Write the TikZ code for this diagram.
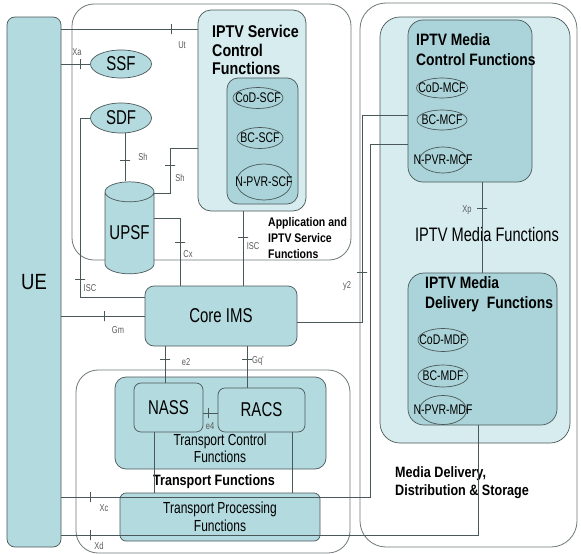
\documentclass[tikz,border=0pt]{standalone}
\usepackage{fontspec}
\setmainfont{Liberation Sans}[FakeStretch=0.75]
\newfontfamily\hdfont{Liberation Sans}[FakeStretch=0.84]
\usepackage{xcolor}
\usepackage{tikz}
\usetikzlibrary{shapes.geometric}

\definecolor{tealA}{HTML}{B3DADE}
\definecolor{tealB}{HTML}{D6ECEF}
\definecolor{tealC}{HTML}{AAD4D9}
\definecolor{edgec}{HTML}{4B5859}
\definecolor{ifc}{HTML}{5A5A5A}

\tikzset{
  area/.style={draw=edgec!80, line width=0.8pt, rounded corners=22pt, inner sep=0pt},
  box/.style={draw=edgec, line width=0.7pt, fill=tealA, rounded corners=7pt, inner sep=0pt},
  fn/.style={ellipse, draw=edgec, line width=0.7pt, inner sep=0pt},
  fnl/.style={font=\fontsize{14}{16}\selectfont, inner sep=0pt},
  big/.style={font=\fontsize{20}{24}\selectfont},
  ttl/.style={font=\hdfont\bfseries\fontsize{17}{18.5}\selectfont, align=left, inner sep=0pt},
  link/.style={draw=edgec, line width=0.7pt},
  tickh/.style={draw=edgec, line width=0.7pt, minimum width=0pt, minimum height=10pt, inner sep=0pt, outer sep=0pt},
  tickv/.style={draw=edgec, line width=0.7pt, minimum width=10pt, minimum height=0pt, inner sep=0pt, outer sep=0pt},
  ifl/.style={text=ifc, font=\fontsize{10}{12}\selectfont, inner sep=0pt},
}

\begin{document}
\begin{tikzpicture}[x=1pt, y=-1pt]
  \useasboundingbox[fill=white] (0,0) rectangle (581,554);
  % Define areas
  \node[area, minimum width=279pt, minimum height=256pt] (appfn) at (211.5,132) {};
  \node[area, minimum width=274pt, minimum height=183pt] (trfn) at (213,461.5) {};
  \node[area, minimum width=217pt, minimum height=544pt, rounded corners=26pt] (media) at (468.5,275) {};
  \node[box, fill=tealB, rounded corners=20pt, minimum width=190pt, minimum height=426pt] (mediafn) at (475,230) {};
  % Define nodes
  \node[box, big, rounded corners=8pt, minimum width=54pt, minimum height=530pt] (ue) at (34,282) {\hdfont\fontsize{22}{24}\selectfont UE};
  \node[box, fill=tealB, rounded corners=13pt, minimum width=108pt, minimum height=201pt] (scf) at (252,110.5) {};
  \node[box, fill=tealC, rounded corners=11pt, minimum width=71pt, minimum height=126pt] (scfin) at (262.5,141) {};
  \node[fn, minimum width=50pt, minimum height=21pt, label={[fnl]center:CoD-SCF}] (codscf) at (258,98) {};
  \node[fn, minimum width=46pt, minimum height=21pt, label={[fnl]center:BC-SCF}] (bcscf) at (260,138) {};
  \node[fn, minimum width=55pt, minimum height=36pt, label={[fnl]center:N-PVR-SCF}] (npvrscf) at (264,182) {};
  \node[fn, big, fill=tealA, minimum width=61pt, minimum height=28pt] (ssf) at (121,64) {SSF};
  \node[fn, big, fill=tealA, minimum width=61pt, minimum height=30pt] (sdf) at (121,118) {SDF};
  \node[cylinder, shape border rotate=90, aspect=0.5, draw=edgec, line width=0.7pt, fill=tealA,
        big, inner sep=0pt, minimum width=49pt, minimum height=92pt] (upsf) at (129.5,233) {UPSF};
  \node[box, big, rounded corners=9pt, minimum width=152pt, minimum height=60pt] (core) at (221,316) {Core IMS};
  \node[box, rounded corners=11pt, minimum width=211pt, minimum height=92pt] (tc) at (220.5,423) {};
  \node[box, big, minimum width=69pt, minimum height=49pt] (nass) at (168.5,407.5) {NASS};
  \node[box, big, minimum width=87pt, minimum height=44pt] (racs) at (261.5,410) {RACS};
  \node[box, align=center, rounded corners=6pt, font=\fontsize{16}{18}\selectfont, minimum width=200pt, minimum height=48pt] (tp) at (220,517) {Transport Processing\\Functions};
  \node[box, fill=tealC, rounded corners=15pt, minimum width=124pt, minimum height=162pt] (mcf) at (470,101) {};
  \node[fn, minimum width=51pt, minimum height=20pt, label={[fnl]center:CoD-MCF}] (codmcf) at (442,88) {};
  \node[fn, minimum width=50pt, minimum height=20pt, label={[fnl]center:BC-MCF}] (bcmcf) at (442,120) {};
  \node[fn, minimum width=47pt, minimum height=26pt, label={[fnl]center:N-PVR-MCF}] (npvrmcf) at (443,160) {};
  \node[box, fill=tealC, rounded corners=16pt, minimum width=149pt, minimum height=152pt] (mdf) at (482.5,349) {};
  \node[fn, minimum width=50pt, minimum height=23pt, label={[fnl]center:CoD-MDF}] (codmdf) at (443,340) {};
  \node[fn, minimum width=50pt, minimum height=22pt, label={[fnl]center:BC-MDF}] (bcmdf) at (443,376) {};
  \node[fn, minimum width=47pt, minimum height=29pt, label={[fnl]center:N-PVR-MDF}] (npvrmdf) at (443,410) {};
  % Titles
  \node[ttl, anchor=north west] (scftitle) at (212,25) {IPTV Service\\Control\\Functions};
  \node[ttl, anchor=north west, font=\hdfont\bfseries\fontsize{16.5}{20}\selectfont] (mcftitle) at (416,33) {IPTV Media\\Control Functions};
  \node[ttl, anchor=north west, font=\hdfont\bfseries\fontsize{16.5}{20}\selectfont] (mdftitle) at (425,276) {IPTV Media\\Delivery\ \ Functions};
  \node[ttl, anchor=north west, font=\hdfont\bfseries\fontsize{12.5}{16}\selectfont] (apptitle) at (268,217) {Application and\\IPTV Service\\Functions};
  \node[ttl, anchor=north west, font=\hdfont\bfseries\fontsize{15}{18}\selectfont] (mediatitle) at (395,466) {Media Delivery,\\Distribution \& Storage};
  \node[font=\fontsize{19.5}{22}\selectfont, inner sep=0pt] (mediafntitle) at (487,235) {IPTV Media Functions};
  \node[align=center, font=\fontsize{16}{17}\selectfont, inner sep=0pt] (tctitle) at (220,448) {Transport Control\\Functions};
  \node[font=\hdfont\bfseries\fontsize{15}{17}\selectfont, inner sep=0pt] (trtitle) at (214,482) {Transport Functions};
  % Connectors
  \draw[link] (ue.east |- 0,29) -- node[tickh, pos=.81] (tut) {} (scf.west |- 0,29);
  \draw[link] (ue.east |- ssf) -- node[tickh, pos=.67] (txa) {} (ssf);
  \draw[link] (sdf) -| node[tickv, pos=.95] (tiscu) {} (80,297) -- (core.west |- 0,297);
  \draw[link] (sdf.south -| 125,0) -- node[tickv, pos=.56] (tsha) {} (upsf.north -| 125,0);
  \draw[link] (upsf.east |- 0,193) -- (170,193) -- node[tickv, pos=.62] (tshb) {} (170,148) -- (scf.west |- 0,148);
  \draw[link] (upsf.east |- 0,218) -| node[tickv, pos=.68] (tcx) {} (core.north -| 180,0);
  \draw[link] (scf.south -| 243,0) -- node[tickv, pos=.35] (tisc) {} (core.north -| 243,0);
  \draw[link] (ue.east |- core) -- node[tickh, pos=.52] (tgm) {} (core);
  \draw[link] (core.south -| 165,0) -- node[tickv, pos=.36] (te2) {} (nass.north -| 165,0);
  \draw[link] (core.south -| 247,0) -- node[tickv, pos=.31] (tgq) {} (racs.north -| 247,0);
  \draw[link] (nass.east |- 0,413) -- node[tickh, pos=.33] (te4) {} (racs.west |- 0,413);
  \draw[link] (nass.south -| 154,0) -- (tp.north -| 154,0);
  \draw[link] (racs.south -| 292,0) -- (tp.north -| 292,0);
  \draw[link] (core.east |- 0,322) -- (362,322) -- node[tickv, pos=.24] (ty2) {} (362,115) -- (mcf.west |- 0,115);
  \draw[link] (ue.east |- 0,497) -- node[tickh, pos=.094] (txc) {} (370,497) |- (mcf.west |- 0,144);
  \draw[link] (ue.east |- 0,535) -- node[tickh, pos=.07] (txd) {} (478,535) -- (mdf.south -| 478,0);
  \draw[link] (mcf.south -| 482,0) -- node[tickv, pos=.29] (txp) {} (mdf.north -| 482,0);
  % Interface labels
  \node[ifl] (lut) at (182,45) {Ut};
  \node[ifl] (lxa) at (77,52) {Xa};
  \node[ifl] (lsha) at (143,157) {Sh};
  \node[ifl] (lshb) at (180,178) {Sh};
  \node[ifl] (lcx) at (188,254) {Cx};
  \node[ifl] (lisc) at (253,246) {ISC};
  \node[ifl] (liscu) at (90,288) {ISC};
  \node[ifl] (lgm) at (118,330) {Gm};
  \node[ifl] (le2) at (186,362) {e2};
  \node[ifl] (lgq) at (258,361) {Gq'};
  \node[ifl] (le4) at (210,426) {e4};
  \node[ifl] (ly2) at (347,286) {y2};
  \node[ifl] (lxc) at (104,508) {Xc};
  \node[ifl] (lxd) at (99,546) {Xd};
  \node[ifl] (lxp) at (467,210) {Xp};
\end{tikzpicture}
\end{document}
